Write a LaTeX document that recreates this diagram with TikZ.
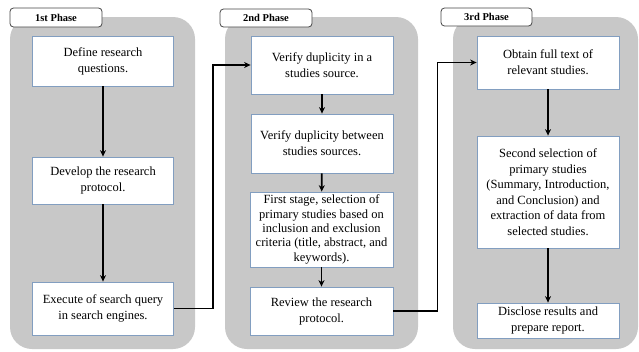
\documentclass[tikz,border=0pt]{standalone}
\usepackage{fontspec}
\setmainfont{Liberation Serif}
\usetikzlibrary{arrows.meta}
\definecolor{panelgray}{RGB}{200,200,200}
\definecolor{boxblue}{RGB}{130,158,192}
\definecolor{tabedge}{RGB}{70,70,70}
\tikzset{
  panel/.style={fill=panelgray, draw=none, rounded corners=22pt},
  tabbox/.style={draw=tabedge, fill=white, rounded corners=3.5pt, line width=0.8pt},
  tablabel/.style={font=\fontsize{10.5}{12}\selectfont\bfseries, inner sep=0pt},
  stepbox/.style={draw=boxblue, fill=white, line width=0.8pt, align=center,
    font=\fontsize{12.5}{16}\selectfont, inner sep=1pt},
  flow/.style={line width=1.8pt, -{Stealth[length=6.5pt,width=6pt]}},
}
\begin{document}
\begin{tikzpicture}[x=1pt,y=-1pt]
\useasboundingbox (0,0) rectangle (639,351);
% panels
\fill[panel] (10,17) rectangle (195,349);
\fill[panel] (225,17) rectangle (418,349);
\fill[panel] (453,17) rectangle (638,349);
% tabs
\draw[tabbox] (10,8) rectangle (102,27);
\node[tablabel] (t1) at (56,17.5) {1st Phase};
\draw[tabbox] (220,9) rectangle (312,27);
\node[tablabel] (t2) at (266,18) {2nd Phase};
\draw[tabbox] (441,8) rectangle (532,26);
\node[tablabel] (t3) at (486.5,17) {3rd Phase};
% boxes phase 1
\node[stepbox, minimum width=141pt, minimum height=50pt] (b1) at (103,61) {Define research\\questions.};
\node[stepbox, minimum width=141pt, minimum height=47pt] (b2) at (103,180.5) {Develop the research\\protocol.};
\node[stepbox, minimum width=141pt, minimum height=53pt] (b3) at (103,308.5) {Execute of search query\\in search engines.};
% boxes phase 2
\node[stepbox, minimum width=142pt, minimum height=58pt] (b4) at (322,65) {Verify duplicity in a\\studies source.};
\node[stepbox, minimum width=142pt, minimum height=59pt] (b5) at (322,143.5) {Verify duplicity between\\studies sources.};
\node[stepbox, minimum width=143pt, minimum height=75pt, font=\fontsize{12.5}{14.4}\selectfont] (b6) at (321.5,229.5) {First stage, selection of\\primary studies based on\\inclusion and exclusion\\criteria (title, abstract, and\\keywords).};
\node[stepbox, minimum width=143pt, minimum height=48pt] (b7) at (321.5,311) {Review the research\\protocol.};
% boxes phase 3
\node[stepbox, minimum width=142pt, minimum height=53pt] (b8) at (548,62.5) {Obtain full text of\\relevant studies.};
\node[stepbox, minimum width=142pt, minimum height=112pt, font=\fontsize{12.5}{15.5}\selectfont] (b9) at (548,192) {Second selection of\\primary studies\\(Summary, Introduction,\\and Conclusion) and\\extraction of data from\\selected studies.};
\node[stepbox, minimum width=142pt, minimum height=35pt] (b10) at (548,320.5) {Disclose results and\\prepare report.};
% arrows
\draw[flow] (b1) -- (b2);
\draw[flow] (b2) -- (b3);
\draw[flow] (b4) -- (b5);
\draw[flow] (b5) -- (b6);
\draw[flow] (b6) -- (b7);
\draw[flow] (b8) -- (b9);
\draw[flow] (b9) -- (b10);
\draw[flow] (b3.east) -- ++(39,0) |- (b4.west);
\draw[flow] (b7.east) -- ++(44,0) |- (b8.west);
\end{tikzpicture}
\end{document}
